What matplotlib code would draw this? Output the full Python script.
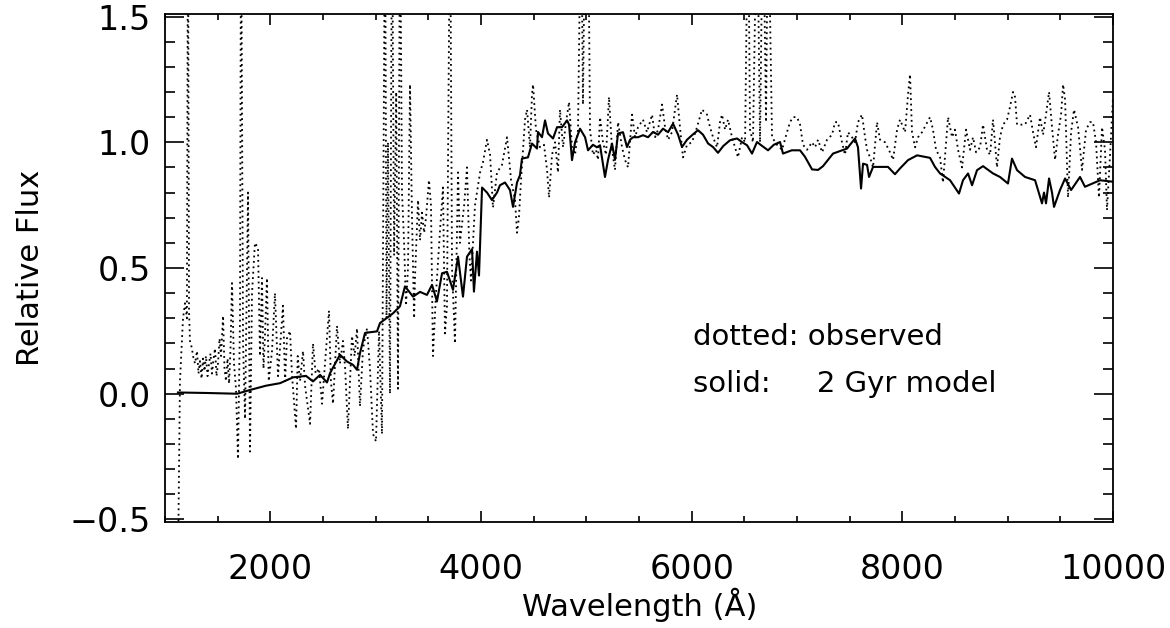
import matplotlib
matplotlib.use('Agg')
import matplotlib.pyplot as plt
from matplotlib.ticker import MultipleLocator

# observed spectrum (dotted); spikes above 1.5 are clipped by the axes
obs_wave = [1123, 1142, 1160, 1171, 1190, 1208, 1218, 1228, 1237, 1256, 1266, 1285, 1304, 1318,
            1332, 1347, 1361, 1375, 1389, 1404, 1418, 1432, 1446, 1461, 1475, 1489, 1503, 1518,
            1532, 1551, 1565, 1579, 1594, 1608, 1622, 1636, 1655, 1674, 1693, 1712, 1722, 1741,
            1760, 1779, 1788, 1807, 1826, 1854, 1883, 1902, 1921, 1935, 1949, 1968, 1985, 2016,
            2044, 2073, 2095, 2120, 2140, 2158, 2187, 2205, 2244, 2260, 2282, 2310, 2330, 2377,
            2405, 2430, 2462, 2491, 2519, 2557, 2575, 2595, 2633, 2661, 2690, 2710, 2737, 2775,
            2800, 2823, 2851, 2880, 2918, 2946, 2975, 3003, 3032, 3060, 3089, 3103, 3117, 3136,
            3155, 3175, 3195, 3212, 3231, 3250, 3270, 3288, 3307, 3326, 3345, 3365, 3374, 3402,
            3421, 3440, 3460, 3478, 3506, 3525, 3544, 3573, 3611, 3639, 3658, 3677, 3706, 3725,
            3753, 3782, 3800, 3840, 3867, 3890, 3905, 3943, 3991, 4019, 4057, 4086, 4114, 4152,
            4199, 4247, 4270, 4285, 4323, 4342, 4360, 4380, 4418, 4437, 4465, 4484, 4494, 4522,
            4560, 4598, 4627, 4646, 4674, 4703, 4731, 4750, 4779, 4807, 4836, 4864, 4893, 4921,
            4950, 4968, 4990, 5016, 5035, 5063, 5092, 5111, 5130, 5158, 5187, 5215, 5244, 5272,
            5301, 5339, 5367, 5396, 5434, 5462, 5491, 5538, 5576, 5624, 5652, 5681, 5719, 5747,
            5776, 5813, 5861, 5889, 5918, 5956, 6003, 6051, 6098, 6146, 6174, 6203, 6241, 6269,
            6288, 6317, 6345, 6383, 6412, 6440, 6478, 6507, 6535, 6554, 6582, 6620, 6649, 6677,
            6706, 6725, 6763, 6810, 6858, 6905, 6934, 6962, 7000, 7029, 7057, 7095, 7143, 7171,
            7200, 7238, 7285, 7333, 7361, 7389, 7427, 7456, 7484, 7522, 7551, 7579, 7617, 7646,
            7665, 7693, 7722, 7760, 7788, 7836, 7883, 7912, 7950, 7978, 8026, 8054, 8073, 8092,
            8121, 8149, 8187, 8225, 8263, 8291, 8320, 8358, 8386, 8415, 8434, 8472, 8500, 8529,
            8567, 8605, 8643, 8671, 8700, 8738, 8766, 8804, 8833, 8861, 8899, 8927, 8956, 8994,
            9022, 9051, 9070, 9089, 9117, 9165, 9212, 9241, 9269, 9307, 9336, 9364, 9393, 9421,
            9450, 9478, 9507, 9526, 9545, 9573, 9602, 9630, 9668, 9706, 9725, 9744, 9782, 9810,
            9839, 9867, 9896, 9924, 9943, 9972, 10000]
obs_flux = [-0.7, 0.05, 0.20, 0.30, 0.36, 0.30, 2.0, 0.33, 0.21, 0.18, 0.15, 0.12, 0.17, 0.08,
            0.13, 0.06, 0.14, 0.09, 0.15, 0.07, 0.12, 0.16, 0.08, 0.14, 0.18, 0.07, 0.12, 0.22,
            0.15, 0.31, 0.10, 0.05, 0.14, 0.04, 0.18, 0.44, 0.12, 0.02, -0.26, 0.30, 2.0, 0.20,
            -0.10, 0.50, 0.80, -0.23, 0.40, 0.60, 0.58, 0.15, 0.46, 0.10, 0.23, 0.46, 0.05, 0.17,
            0.40, 0.07, 0.20, 0.35, 0.05, 0.22, 0.25, 0.08, -0.14, 0.15, 0.05, 0.17, 0.03, -0.12,
            0.20, 0.08, 0.10, -0.04, 0.12, 0.33, 0.05, -0.04, 0.27, 0.12, 0.21, 0.10, -0.14, 0.23,
            0.15, 0.26, -0.05, 0.18, 0.26, 0.10, -0.16, -0.19, 0.25, -0.16, 2.0, 0.30, 1.0, 0.0,
            2.0, 0.55, 1.2, 0.02, 2.0, 0.80, 0.60, 0.35, 0.50, 1.23, 0.70, 0.30, 0.47, 0.77,
            0.61, 0.72, 0.64, 0.70, 0.85, 0.75, 0.15, 0.40, 0.65, 0.82, 0.24, 0.35, 2.0, 0.50,
            0.20, 0.88, 0.60, 0.75, 0.90, 0.55, 0.45, 0.75, 0.88, 0.92, 1.01, 0.95, 0.74, 0.88,
            0.91, 1.02, 0.92, 0.85, 0.77, 0.64, 0.70, 0.85, 1.09, 1.13, 0.98, 1.19, 1.23, 1.05,
            0.98, 0.99, 0.89, 0.78, 0.95, 1.00, 0.88, 1.13, 0.98, 1.08, 1.16, 0.98, 0.95, 1.05,
            2.0, 1.15, 2.0, 2.0, 1.05, 0.95, 0.97, 0.93, 1.10, 1.00, 0.95, 1.18, 0.97, 0.89,
            1.08, 0.98, 0.93, 0.90, 1.11, 1.02, 1.06, 1.09, 1.04, 1.11, 1.02, 1.05, 1.15, 1.06,
            1.01, 1.04, 1.19, 1.06, 0.94, 0.99, 1.00, 1.06, 1.13, 1.11, 1.06, 1.02, 0.98, 1.08,
            1.11, 1.05, 1.09, 1.02, 0.98, 0.94, 1.02, 1.00, 2.0, 1.05, 1.00, 2.0, 1.00, 2.0,
            1.08, 2.0, 1.02, 0.99, 0.97, 1.04, 1.08, 1.10, 1.10, 1.07, 0.99, 0.97, 1.00, 0.98,
            1.01, 0.96, 1.01, 1.03, 1.08, 1.08, 1.00, 0.95, 1.04, 1.02, 1.00, 1.08, 1.11, 1.02,
            0.97, 0.94, 0.90, 1.08, 1.01, 1.00, 0.96, 0.93, 1.05, 1.09, 1.04, 1.19, 1.27, 1.04,
            0.98, 1.02, 1.04, 1.07, 1.10, 1.05, 0.97, 0.94, 0.84, 1.00, 1.10, 1.02, 1.05, 0.97,
            0.90, 1.05, 0.97, 1.02, 0.96, 0.98, 1.07, 0.97, 0.95, 1.09, 0.90, 1.02, 1.07, 1.09,
            1.14, 1.20, 1.18, 1.07, 1.07, 1.07, 1.11, 1.04, 0.98, 1.10, 1.03, 1.11, 1.20, 1.06,
            0.93, 1.03, 1.11, 1.23, 1.17, 0.78, 1.04, 1.13, 1.06, 0.89, 0.97, 1.05, 1.08, 1.08,
            1.00, 0.78, 1.06, 0.97, 0.73, 0.95, 1.18]

# 2 Gyr model spectrum (solid)
mod_wave = [1123, 1400, 1684, 1816, 1959, 2092, 2215, 2339, 2405, 2472, 2538, 2567, 2661, 2728,
            2785, 2823, 2851, 2899, 3013, 3041, 3165, 3231, 3278, 3355, 3421, 3487, 3535, 3582,
            3630, 3677, 3734, 3782, 3829, 3867, 3915, 3933, 3962, 3981, 4010, 4057, 4104, 4152,
            4180, 4228, 4275, 4304, 4342, 4370, 4389, 4446, 4484, 4532, 4541, 4579, 4608, 4636,
            4684, 4722, 4769, 4817, 4836, 4864, 4893, 4940, 4988, 5016, 5063, 5101, 5130, 5177,
            5206, 5244, 5272, 5301, 5348, 5386, 5415, 5443, 5491, 5538, 5586, 5633, 5681, 5728,
            5776, 5823, 5871, 5908, 5956, 6003, 6060, 6108, 6156, 6203, 6250, 6300, 6364, 6431,
            6480, 6526, 6573, 6620, 6670, 6725, 6780, 6839, 6867, 6950, 7029, 7076, 7143, 7200,
            7247, 7342, 7475, 7551, 7579, 7608, 7627, 7665, 7684, 7722, 7864, 7930, 7978, 8054,
            8140, 8263, 8310, 8358, 8453, 8538, 8576, 8624, 8662, 8709, 8766, 8861, 8927, 9003,
            9041, 9089, 9165, 9260, 9326, 9345, 9364, 9393, 9421, 9440, 9497, 9545, 9602, 9687,
            9734, 9800, 9877, 10000]
mod_flux = [0.005, 0.003, 0.0, 0.016, 0.032, 0.042, 0.065, 0.071, 0.049, 0.075, 0.045, 0.082,
            0.155, 0.128, 0.115, 0.095, 0.161, 0.242, 0.248, 0.281, 0.32, 0.348, 0.427, 0.386,
            0.405, 0.393, 0.433, 0.367, 0.479, 0.485, 0.413, 0.545, 0.386, 0.545, 0.575, 0.406,
            0.565, 0.47, 0.82, 0.80, 0.77, 0.80, 0.829, 0.84, 0.81, 0.743, 0.84, 0.869, 0.935,
            0.94, 0.995, 0.975, 1.041, 1.02, 1.087, 1.035, 1.015, 1.06, 1.06, 1.087, 1.07, 0.929,
            1.0, 1.054, 1.02, 0.968, 0.99, 0.98, 0.988, 0.862, 0.93, 0.995, 0.93, 1.035, 1.04,
            0.981, 1.01, 1.02, 1.02, 1.028, 1.02, 1.041, 1.03, 1.054, 1.04, 1.074, 1.03, 0.981,
            1.01, 1.028, 1.048, 1.03, 0.995, 0.981, 0.958, 0.985, 1.008, 1.015, 1.0, 0.988,
            0.955, 1.001, 0.985, 0.968, 0.99, 1.001, 0.955, 0.968, 0.968, 0.942, 0.892, 0.89,
            0.905, 0.955, 0.975, 1.015, 0.98, 0.816, 0.915, 0.91, 0.862, 0.902, 0.902, 0.873,
            0.896, 0.929, 0.948, 0.938, 0.902, 0.876, 0.849, 0.796, 0.849, 0.876, 0.829, 0.889,
            0.905, 0.876, 0.862, 0.836, 0.935, 0.889, 0.862, 0.849, 0.757, 0.80, 0.757, 0.856,
            0.80, 0.743, 0.81, 0.856, 0.81, 0.862, 0.823, 0.835, 0.849, 0.843]

plt.rcParams['font.family'] = ['DejaVu Sans']

fig = plt.figure(figsize=(11.7, 6.28), dpi=100)
ax = fig.add_axes([165 / 1170, 106 / 628, 948 / 1170, 508 / 628])

ax.plot(obs_wave, obs_flux, color='black', linestyle=(0, (1, 2)), linewidth=1.3)
ax.plot(mod_wave, mod_flux, color='black', linestyle='-', linewidth=1.5)

ax.set_xlim(1000, 10000)
ax.set_ylim(-0.51, 1.51)

ax.xaxis.set_major_locator(MultipleLocator(2000))
ax.xaxis.set_minor_locator(MultipleLocator(500))
ax.yaxis.set_major_locator(MultipleLocator(0.5))
ax.yaxis.set_minor_locator(MultipleLocator(0.1))
ax.yaxis.set_major_formatter(plt.FuncFormatter(lambda v, p: ('%.1f' % v).replace('-', '\u2212')))

ax.tick_params(axis='x', which='both', direction='in', top=True, bottom=True,
               width=1.2, labelsize=24, pad=22)
ax.tick_params(axis='x', which='major', length=8)
ax.tick_params(axis='x', which='minor', length=4.3)
ax.tick_params(axis='y', which='both', direction='in', left=True, right=True,
               width=1.2, labelsize=24, pad=10)
ax.tick_params(axis='y', which='major', length=13.7)
ax.tick_params(axis='y', which='minor', length=7.2)
for s in ax.spines.values():
    s.set_linewidth(1.3)

ax.set_xlabel('Wavelength (Å)', fontsize=22)
ax.set_ylabel('Relative Flux', fontsize=22)
ax.xaxis.set_label_coords(0.501, -0.13)
ax.yaxis.set_label_coords(-0.127, 0.5)

ax.text(6013, 0.194, 'dotted: observed', fontsize=21, va='baseline', ha='left')
ax.text(6013, 0.008, 'solid:     2 Gyr model', fontsize=21, va='baseline', ha='left')

fig.savefig('out.png', dpi=100)
